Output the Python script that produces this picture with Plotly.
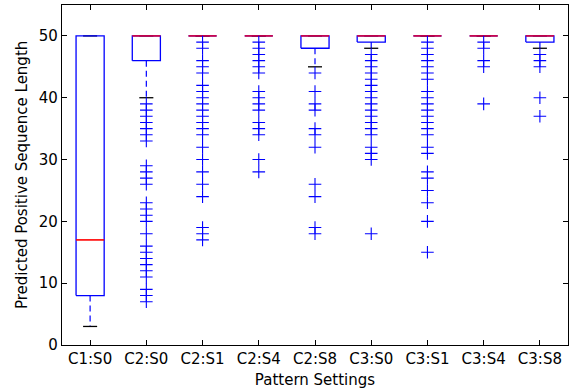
import plotly.graph_objects as go

categories = ["C1:S0", "C2:S0", "C2:S1", "C2:S4", "C2:S8", "C3:S0", "C3:S1", "C3:S4", "C3:S8"]
q1 = [8, 46, 50, 50, 48, 49, 50, 50, 49]
median = [17, 50, 50, 50, 50, 50, 50, 50, 50]
q3 = [50, 50, 50, 50, 50, 50, 50, 50, 50]
whisker_low = [3, 40, 50, 50, 45, 48, 50, 50, 48]
whisker_high = [50, 50, 50, 50, 50, 50, 50, 50, 50]
fliers = [
    [],
    [39, 38, 37, 36, 35, 34, 33, 29, 28, 27, 26, 23, 22, 21, 20, 18, 16, 15, 14, 13, 12, 11, 9, 8, 7],
    [49, 48, 46, 45, 44, 42, 41, 40, 39, 38, 37, 36, 35, 34, 32, 30, 28, 26, 24, 19, 18, 17],
    [49, 48, 47, 46, 45, 44, 41, 40, 39, 38, 36, 35, 34, 30, 28],
    [44, 41, 39, 38, 35, 34, 32, 26, 24, 19, 18],
    [47, 46, 45, 44, 43, 42, 41, 40, 39, 38, 37, 36, 35, 34, 32, 31, 30, 18],
    [49, 48, 47, 46, 45, 44, 43, 41, 40, 39, 38, 37, 36, 35, 34, 32, 31, 28, 27, 25, 23, 20, 15],
    [49, 48, 46, 45, 39],
    [47, 46, 45, 40, 37],
]

BLUE = "#0000ff"
RED = "#ff0000"
FONT = "DejaVu Sans"
BOX_HALF = 0.25
CAP_HALF = 0.125

fig = go.Figure()
pos = list(range(1, len(categories) + 1))

# whiskers
wx, wy = [], []
for p, a, b, lo, hi in zip(pos, q1, q3, whisker_low, whisker_high):
    if lo < a:
        wx += [p, p, None]; wy += [a, lo, None]
    if hi > b:
        wx += [p, p, None]; wy += [b, hi, None]
fig.add_trace(go.Scatter(x=wx, y=wy, mode="lines", line=dict(color=BLUE, width=1.2, dash="6px,4px"),
                         hoverinfo="skip", showlegend=False))
# caps
cx, cy = [], []
for p, lo, hi in zip(pos, whisker_low, whisker_high):
    for v in (lo, hi):
        cx += [p - CAP_HALF, p + CAP_HALF, None]; cy += [v, v, None]
fig.add_trace(go.Scatter(x=cx, y=cy, mode="lines", line=dict(color="black", width=1.3),
                         hoverinfo="skip", showlegend=False))
# boxes
bx, by = [], []
for p, a, b in zip(pos, q1, q3):
    bx += [p - BOX_HALF, p + BOX_HALF, p + BOX_HALF, p - BOX_HALF, p - BOX_HALF, None]
    by += [a, a, b, b, a, None]
fig.add_trace(go.Scatter(x=bx, y=by, mode="lines", line=dict(color=BLUE, width=1.3),
                         hoverinfo="skip", showlegend=False))
# medians
for p, m, b in zip(pos, median, q3):
    col = RED if m < b else "#d8003a"
    fig.add_trace(go.Scatter(x=[p - BOX_HALF, p + BOX_HALF], y=[m, m], mode="lines",
                             line=dict(color=col, width=1.6), hoverinfo="skip", showlegend=False))
# fliers
fx, fy = [], []
for p, fl in zip(pos, fliers):
    fx += [p] * len(fl); fy += fl
fig.add_trace(go.Scatter(x=fx, y=fy, mode="markers",
                         marker=dict(symbol="cross-thin", size=9, color=BLUE, line=dict(color=BLUE, width=1.1)),
                         showlegend=False))

axis_common = dict(showline=True, linecolor="black", linewidth=1.3, mirror="allticks",
                   ticks="inside", ticklen=5, tickwidth=1, tickcolor="black",
                   showgrid=False, zeroline=False, automargin=False,
                   tickfont=dict(family=FONT, size=15, color="black"))
fig.update_xaxes(range=[0.5, 9.5], tickvals=pos, ticktext=categories,
                 title=dict(text="Pattern Settings", font=dict(family=FONT, size=15, color="black")),
                 **axis_common)
fig.update_yaxes(range=[0, 55], tickvals=[0, 10, 20, 30, 40, 50], **axis_common)
fig.add_annotation(text="Predicted Positive Sequence Length", xref="paper", yref="paper",
                   x=0, y=0.5, xshift=-40, xanchor="center", yanchor="middle", textangle=-90,
                   showarrow=False, font=dict(family=FONT, size=15, color="black"))
fig.update_layout(width=571, height=389, margin=dict(l=62, r=3, t=5, b=44, autoexpand=False),
                  plot_bgcolor="white", paper_bgcolor="white",
                  font=dict(family=FONT, size=15, color="black"))
fig.write_html("out.html", config={"displayModeBar": False},
               post_script="document.body.style.margin='0';document.body.style.padding='0';")
